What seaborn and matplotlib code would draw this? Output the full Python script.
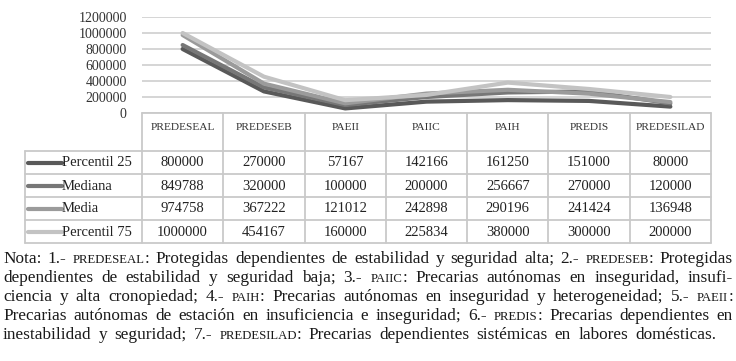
import re
import pandas as pd
import matplotlib
matplotlib.use("Agg")
import matplotlib.pyplot as plt
import seaborn as sns

categories = ["PREDESEAL", "PREDESEB", "PAEII", "PAIIC", "PAIH", "PREDIS", "PREDESILAD"]
series_names = ["Percentil 25", "Mediana", "Media", "Percentil 75"]
percentil_25 = [800000, 270000, 57167, 142166, 161250, 151000, 80000]
mediana = [849788, 320000, 100000, 200000, 256667, 270000, 120000]
media = [974758, 367222, 121012, 242898, 290196, 241424, 136948]
percentil_75 = [1000000, 454167, 160000, 225834, 380000, 300000, 200000]
y_ticks = [0, 200000, 400000, 600000, 800000, 1000000, 1200000]
colors = ["#595959", "#777777", "#9b9b9b", "#c3c3c3"]

note_lines = [
    "Nota: 1.- {predeseal}: Protegidas dependientes de estabilidad y seguridad alta; 2.- {predeseb}: Protegidas",
    "dependientes de estabilidad y seguridad baja; 3.- {paiic}: Precarias autónomas en inseguridad, insufi-",
    "ciencia y alta cronopiedad; 4.- {paih}: Precarias autónomas en inseguridad y heterogeneidad; 5.- {paeii}:",
    "Precarias autónomas de estación en insuficiencia e inseguridad; 6.- {predis}: Precarias dependientes en",
    "inestabilidad y seguridad; 7.- {predesilad}: Precarias dependientes sistémicas en labores domésticas.",
]

serif = ["Liberation Serif", "DejaVu Serif"]

sns.set_style("white")
plt.rcParams["font.family"] = serif

all_values = [percentil_25, mediana, media, percentil_75]
rows = []
for name, vals in zip(series_names, all_values):
    for cat, v in zip(categories, vals):
        rows.append({"cat": cat, "value": v, "stat": name})
df = pd.DataFrame(rows)

W, H = 736, 361
fig = plt.figure(figsize=(W / 100, H / 100), dpi=100)

# chart area (pixel layout)
left, right, top, bottom = 142, 711, 17, 113
ax = fig.add_axes([left / W, 1 - bottom / H, (right - left) / W, (bottom - top) / H])
sns.lineplot(data=df, x="cat", y="value", hue="stat", palette=colors,
             hue_order=series_names, linewidth=3, legend=False, sort=False, ax=ax, zorder=3)
ax.set_xlim(-0.5, len(categories) - 0.5)
ax.set_ylim(0, 1200000)
ax.set_yticks(y_ticks)
ax.set_yticklabels([str(t) for t in y_ticks], fontsize=10, color="#333333")
ax.set_xticks([])
ax.set_xlabel("")
ax.set_ylabel("")
ax.tick_params(axis="y", length=0, pad=11)
ax.yaxis.grid(True, color="#d2d2d2", linewidth=1.3)
for s in ax.spines.values():
    s.set_visible(False)

# overlay in pixel coordinates for table and note
ov = fig.add_axes([0, 0, 1, 1], zorder=5)
ov.set_xlim(0, W)
ov.set_ylim(H, 0)
ov.axis("off")
ov.patch.set_alpha(0)

grid_c = "#c9c9c9"
lw = 1.3
col_w = (right - left) / len(categories)
row_lines = [151, 174, 197, 220, 243]
tab_left = 25
ov.plot([left, right], [bottom, bottom], color=grid_c, lw=lw)
for y in row_lines:
    ov.plot([tab_left, right], [y, y], color=grid_c, lw=lw)
ov.plot([tab_left, tab_left], [row_lines[0], row_lines[-1]], color=grid_c, lw=lw)
for i in range(len(categories) + 1):
    x = left + i * col_w
    ov.plot([x, x], [bottom, row_lines[-1]], color=grid_c, lw=lw)

for i, cat in enumerate(categories):
    ov.text(left + (i + 0.5) * col_w, 128, cat, fontsize=8.2, ha="center", va="center",
            color="#333333")

for r, (name, vals, c) in enumerate(zip(series_names, all_values, colors)):
    yc = (row_lines[r] + row_lines[r + 1]) / 2
    ov.plot([28, 62], [yc, yc], color=c, lw=3, solid_capstyle="round")
    ov.text(62, yc + 0.5, name, fontsize=10.5, ha="left", va="center", color="#222222")
    for i, v in enumerate(vals):
        ov.text(left + (i + 0.5) * col_w, yc + 0.5, str(v), fontsize=10.5, ha="center",
                va="center", color="#222222")

# justified note text with small caps abbreviations
renderer = fig.canvas.get_renderer()


def draw_line(y, text, size, x0, x1):
    words = []
    for w in text.split(" "):
        items = []
        for p in re.split(r"(\{[^}]*\})", w):
            if not p:
                continue
            if p.startswith("{"):
                s, fs = p[1:-1].upper(), size * 0.74
            else:
                s, fs = p, size
            t = ov.text(0, y, s, fontsize=fs, ha="left", va="baseline", color="#1a1a1a")
            items.append((t, t.get_window_extent(renderer).width))
        words.append((items, sum(wd for _, wd in items)))
    total = sum(wd for _, wd in words)
    gap = max((x1 - x0 - total) / (len(words) - 1), size * 0.15)
    x = x0
    for items, _ in words:
        for t, wd in items:
            t.set_x(x)
            x += wd
        x += gap


note_size = 12.4
for k, line in enumerate(note_lines):
    x_end = 733 if k < len(note_lines) - 1 else 716
    draw_line(263 + 19 * k, line, note_size, 3, x_end)

fig.savefig("out.png", dpi=100)
